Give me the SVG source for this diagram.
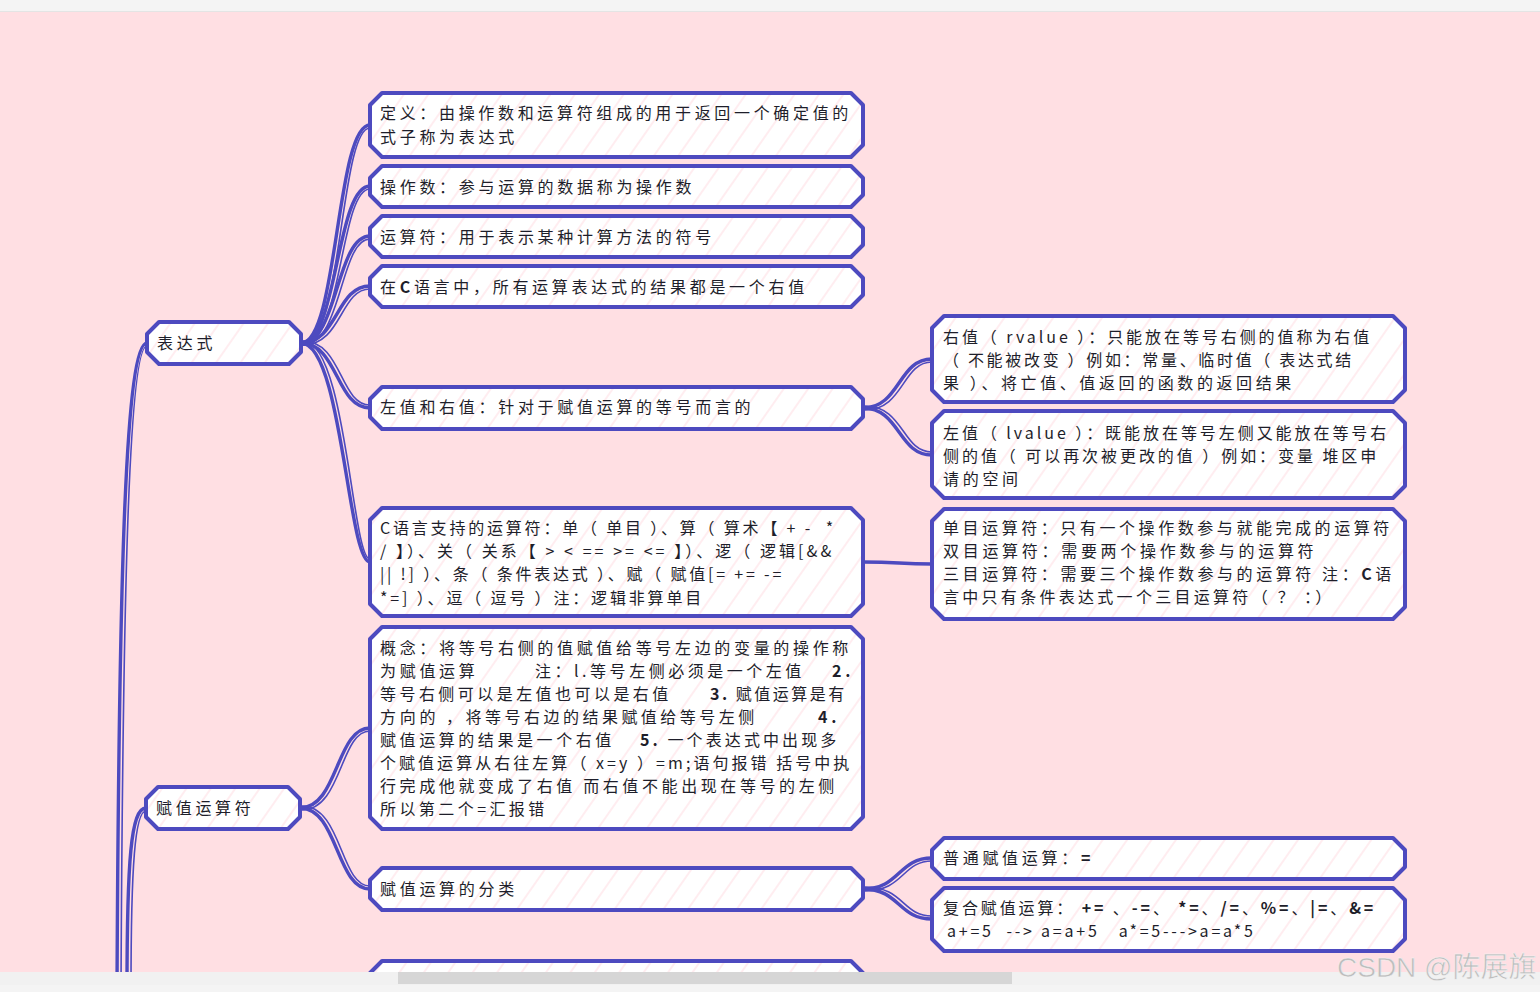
<svg xmlns="http://www.w3.org/2000/svg" width="1540" height="992" viewBox="0 0 1540 992">
<defs>
<pattern id="hatch" patternUnits="userSpaceOnUse" width="20" height="20" patternTransform="rotate(-55)">
<rect width="20" height="20" fill="#ffffff"/>
<line x1="0" y1="5" x2="20" y2="5" stroke="#ffdbe1" stroke-width="1"/>
</pattern>
<style>
.n{fill:url(#hatch);stroke:#4d4abf;stroke-width:4;stroke-linejoin:round}
.e{fill:none;stroke:#4d4abf;stroke-width:3.4;stroke-linecap:round}
.e2{fill:none;stroke:#4d4abf;stroke-width:1.6;stroke-linecap:round}
.t{font-family:"Noto Sans CJK SC","Noto Sans",sans-serif;font-size:16px;letter-spacing:3.7px;fill:#1e1e2a;white-space:pre}
.b{font-weight:bold}
</style>
</defs>
<rect x="0" y="0" width="1540" height="992" fill="#ffdfe3"/>
<rect x="0" y="0" width="1540" height="11" fill="#f4f4f4"/>
<line x1="0" y1="11.5" x2="1540" y2="11.5" stroke="#e4e4e4" stroke-width="1"/>

<g id="connectors">
<path class="e" d="M117,990 C119,560 126,343 147,343"/>
<path class="e2" d="M121,990 C123,560 130,346 147,346"/>
<path class="e" d="M127,990 C127,860 131,808 146,808"/>
<path class="e2" d="M131,990 C131,865 135,811 146,811"/>

<path class="e" d="M301,343 C338,343 336,125 370,125"/>
<path class="e2" d="M303,345 C342,345 340,128 370,128"/>
<path class="e" d="M301,343 C338,343 336,186 370,186"/>
<path class="e2" d="M303,345 C342,345 340,189 370,189"/>
<path class="e" d="M301,343 C338,343 336,236 370,236"/>
<path class="e2" d="M303,345 C342,345 340,239 370,239"/>
<path class="e" d="M301,343 C338,343 336,286 370,286"/>
<path class="e2" d="M303,345 C342,345 340,289 370,289"/>
<path class="e" d="M301,343 C338,343 336,408 370,408"/>
<path class="e2" d="M303,341 C342,341 340,405 370,405"/>
<path class="e" d="M301,343 C342,343 348,562 370,562"/>
<path class="e2" d="M303,341 C346,341 352,559 370,559"/>

<path class="e" d="M300,808 C338,808 336,728 370,728"/>
<path class="e2" d="M302,810 C342,810 340,731 370,731"/>
<path class="e" d="M300,808 C338,808 336,889 370,889"/>
<path class="e2" d="M302,806 C342,806 340,886 370,886"/>

<path class="e" d="M863,408 C900,408 898,359 932,359"/>
<path class="e2" d="M865,410 C904,410 902,362 932,362"/>
<path class="e" d="M863,408 C900,408 898,455 932,455"/>
<path class="e2" d="M865,406 C904,406 902,452 932,452"/>
<path class="e" d="M863,562 C900,562 898,564 932,564"/>
<path class="e" d="M863,889 C900,889 898,858 932,858"/>
<path class="e2" d="M865,891 C904,891 902,861 932,861"/>
<path class="e" d="M863,889 C900,889 898,919 932,919"/>
<path class="e2" d="M865,887 C904,887 902,916 932,916"/>
</g>

<g id="node-biaodashi">
<path class="n" d="M159,322 H289 L301,334 V352 L289,364 H159 L147,352 V334 Z"/>
<text class="t" x="157" y="349">表达式</text>
</g>
<g id="node-fuzhi">
<path class="n" d="M158,787 H288 L300,799 V817 L288,829 H158 L146,817 V799 Z"/>
<text class="t" x="156" y="814">赋值运算符</text>
</g>

<g id="node-def">
<path class="n" d="M382,93 H851 L863,105 V145 L851,157 H382 L370,145 V105 Z"/>
<text class="t" x="380" y="119" textLength="472">定义：由操作数和运算符组成的用于返回一个确定值的</text>
<text class="t" x="380" y="143">式子称为表达式</text>
</g>
<g id="node-operand">
<path class="n" d="M382,166 H851 L863,178 V195 L851,207 H382 L370,195 V178 Z"/>
<text class="t" x="380" y="193">操作数：参与运算的数据称为操作数</text>
</g>
<g id="node-operator">
<path class="n" d="M382,216 H851 L863,228 V245 L851,257 H382 L370,245 V228 Z"/>
<text class="t" x="380" y="243">运算符：用于表示某种计算方法的符号</text>
</g>
<g id="node-rvalue-all">
<path class="n" d="M382,266 H851 L863,278 V295 L851,307 H382 L370,295 V278 Z"/>
<text class="t" x="380" y="293">在<tspan class="b">C</tspan>语言中，所有运算表达式的结果都是一个右值</text>
</g>
<g id="node-lr">
<path class="n" d="M382,387 H851 L863,399 V417 L851,429 H382 L370,417 V399 Z"/>
<text class="t" x="380" y="413">左值和右值：针对于赋值运算的等号而言的</text>
</g>
<g id="node-cops">
<path class="n" d="M382,508 H851 L863,520 V604 L851,616 H382 L370,604 V520 Z"/>
<text class="t" x="380" y="534" textLength="457">C语言支持的运算符：单（ 单目 ）、算（ 算术【 + -  *</text>
<text class="t" x="380" y="557" textLength="455">/ 】）、关（ 关系【 &gt; &lt; == &gt;= &lt;= 】）、逻（ 逻辑[&amp;&amp;</text>
<text class="t" x="380" y="580" textLength="405">|| !] ）、条（ 条件表达式 ）、赋（ 赋值[= += -=</text>
<text class="t" x="380" y="604" textLength="325">*=] ）、逗（ 逗号 ）注：逻辑非算单目</text>
</g>
<g id="node-concept">
<path class="n" d="M382,627 H851 L863,639 V817 L851,829 H382 L370,817 V639 Z"/>
<text class="t" x="380" y="654" textLength="472">概念：将等号右侧的值赋值给等号左边的变量的操作称</text>
<text class="t" x="380" y="677">为赋值运算</text>
<text class="t" x="535" y="677" textLength="270">注：l.等号左侧必须是一个左值</text>
<text class="t b" x="832" y="677">2.</text>
<text class="t" x="380" y="700" textLength="292">等号右侧可以是左值也可以是右值</text>
<text class="t" x="710" y="700" textLength="138"><tspan class="b">3.</tspan> 赋值运算是有</text>
<text class="t" x="380" y="723">方向的</text>
<text class="t" x="446" y="723" textLength="312">，将等号右边的结果赋值给等号左侧</text>
<text class="t b" x="818" y="723">4.</text>
<text class="t" x="380" y="746" textLength="235">赋值运算的结果是一个右值</text>
<text class="t" x="640" y="746" textLength="200"><tspan class="b">5.</tspan> 一个表达式中出现多</text>
<text class="t" x="380" y="769" textLength="473">个赋值运算从右往左算（ x=y ）=m;语句报错 括号中执</text>
<text class="t" x="380" y="792" textLength="458">行完成他就变成了右值 而右值不能出现在等号的左侧</text>
<text class="t" x="380" y="815" textLength="168">所以第二个=汇报错</text>
</g>
<g id="node-classify">
<path class="n" d="M382,868 H851 L863,880 V898 L851,910 H382 L370,898 V880 Z"/>
<text class="t" x="380" y="895">赋值运算的分类</text>
</g>
<g id="node-next">
<path class="n" d="M382,961 H851 L863,973 V1010 L851,1022 H382 L370,1010 V973 Z"/>
</g>

<g id="node-rv">
<path class="n" d="M944,316 H1393 L1405,328 V390 L1393,402 H944 L932,390 V328 Z"/>
<text class="t" x="943" y="343" textLength="430">右值（ rvalue ）：只能放在等号右侧的值称为右值</text>
<text class="t" x="943" y="366" textLength="412">（ 不能被改变 ）例如：常量、临时值（ 表达式结</text>
<text class="t" x="943" y="389" textLength="352">果 ）、将亡值、值返回的函数的返回结果</text>
</g>
<g id="node-lv">
<path class="n" d="M944,411 H1393 L1405,423 V486 L1393,498 H944 L932,486 V423 Z"/>
<text class="t" x="943" y="439" textLength="447">左值（ lvalue ）：既能放在等号左侧又能放在等号右</text>
<text class="t" x="943" y="462" textLength="437">侧的值（ 可以再次被更改的值 ）例如：变量 堆区申</text>
<text class="t" x="943" y="485">请的空间</text>
</g>
<g id="node-arity">
<path class="n" d="M944,509 H1393 L1405,521 V607 L1393,619 H944 L932,607 V521 Z"/>
<text class="t" x="943" y="534" textLength="450">单目运算符：只有一个操作数参与就能完成的运算符</text>
<text class="t" x="943" y="557">双目运算符：需要两个操作数参与的运算符</text>
<text class="t" x="943" y="580" textLength="452">三目运算符：需要三个操作数参与的运算符 注：<tspan class="b">C</tspan>语</text>
<text class="t" x="943" y="603" textLength="392">言中只有条件表达式一个三目运算符（ ？ ：）</text>
</g>
<g id="node-plain">
<path class="n" d="M944,838 H1393 L1405,850 V867 L1393,879 H944 L932,867 V850 Z"/>
<text class="t" x="943" y="864">普通赋值运算：<tspan class="b">=</tspan></text>
</g>
<g id="node-compound">
<path class="n" d="M944,888 H1393 L1405,900 V939 L1393,951 H944 L932,939 V900 Z"/>
<text class="t" x="943" y="914" textLength="434">复合赋值运算： <tspan class="b">+=</tspan> 、<tspan class="b">-=</tspan>、 <tspan class="b">*=</tspan>、<tspan class="b">/=</tspan>、<tspan class="b">%=</tspan>、<tspan class="b">|=</tspan>、<tspan class="b">&amp;=</tspan></text>
<text class="t" x="947" y="937" textLength="307" style="letter-spacing:1px">a+=5  --&gt; a=a+5   a*=5---&gt;a=a*5</text>
</g>

<rect x="0" y="972" width="1540" height="20" fill="#f4f4f4"/>
<rect x="0" y="972" width="1540" height="13" fill="#f1f1f1"/>
<rect x="398" y="972" width="614" height="12" fill="#d6d6d6"/>
<text x="1337" y="977" style="font-family:'Liberation Sans','Noto Sans CJK SC',sans-serif;font-size:28px;fill:#bdbdbd;stroke:#f4f4f4;stroke-width:0.5">CSDN @陈展旗</text>
</svg>
